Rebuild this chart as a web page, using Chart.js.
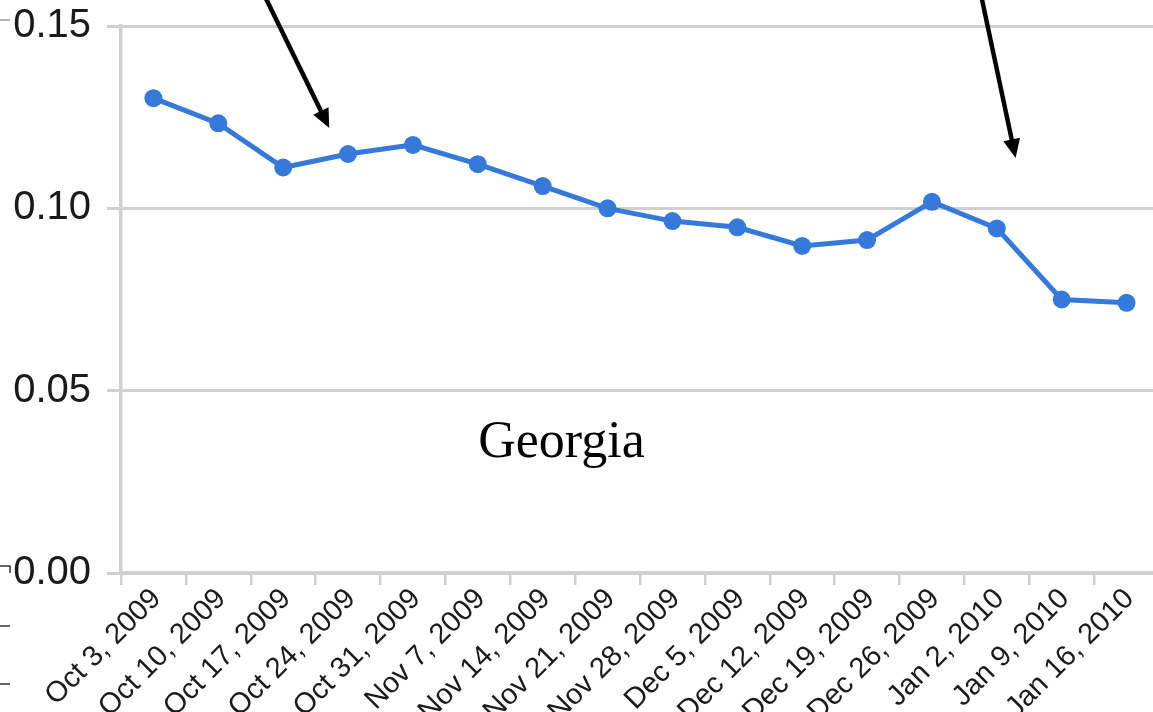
<!DOCTYPE html>
<html>
<head>
<meta charset="utf-8">
<script src="https://cdn.jsdelivr.net/npm/chart.js@4.4.1/dist/chart.umd.min.js"></script>
<style>
  html, body { margin: 0; padding: 0; width: 1153px; height: 712px; overflow: hidden; background: #ffffff; }
  #wrap { position: absolute; left: 0; top: 0; width: 1168px; height: 760px; }
  canvas { display: block; }
</style>
</head>
<body>
<div id="wrap"><canvas id="chart" width="1168" height="760"></canvas></div>
<script>
// Weekly rate, Georgia, Oct 2009 – Jan 2010
const weeks = [
  'Oct 3, 2009', 'Oct 10, 2009', 'Oct 17, 2009', 'Oct 24, 2009',
  'Oct 31, 2009', 'Nov 7, 2009', 'Nov 14, 2009', 'Nov 21, 2009',
  'Nov 28, 2009', 'Dec 5, 2009', 'Dec 12, 2009', 'Dec 19, 2009',
  'Dec 26, 2009', 'Jan 2, 2010', 'Jan 9, 2010', 'Jan 16, 2010'
];
const rates = [
  0.1302, 0.1233, 0.1112, 0.1149, 0.1174, 0.1121, 0.1061, 0.1000,
  0.0965, 0.0948, 0.0897, 0.0913, 0.1018, 0.0945, 0.0750, 0.0741
];
const yTicks = [0.00, 0.05, 0.10, 0.15];

// Panel label and the two pointer arrows, given as [week index, rate]
const panelTitle = 'Georgia';
const panelTitleAt = [6.29, 0.0318];
const arrowFrom = [[1.67, 0.1599], [12.74, 0.1599]];
const arrowTo   = [[2.71, 0.1220], [13.29, 0.1138]];

const LINE_BLUE = '#3579db';
const AXIS_GREY = '#d0d0d0';
const TEXT = '#1a1a1a';

// Layout targets on the page
const PLOT_TOP = 26;       // pixel row of the 0.15 grid line
const PLOT_HEIGHT = 547;   // 0.15 down to 0.00
const X_AXIS_BAND = 187;   // room below the plot for the tick labels

const annotations = {
  id: 'annotations',
  afterDraw(chart) {
    const { ctx, scales: { x, y } } = chart;
    ctx.save();

    // panel title
    ctx.fillStyle = '#000000';
    ctx.font = '52px "Liberation Serif", "Times New Roman", serif';
    ctx.textAlign = 'center';
    ctx.textBaseline = 'alphabetic';
    ctx.fillText(panelTitle, x.getPixelForValue(panelTitleAt[0]), y.getPixelForValue(panelTitleAt[1]));

    // pointer arrows
    ctx.strokeStyle = '#000000';
    ctx.fillStyle = '#000000';
    ctx.lineWidth = 4.5;
    ctx.lineCap = 'butt';
    arrowFrom.forEach((from, i) => {
      const to = arrowTo[i];
      const x0 = x.getPixelForValue(from[0]), y0 = y.getPixelForValue(from[1]);
      const x1 = x.getPixelForValue(to[0]), y1 = y.getPixelForValue(to[1]);
      const ang = Math.atan2(y1 - y0, x1 - x0);
      const headLen = 19, headHalf = 8.5;
      const bx = x1 - headLen * Math.cos(ang), by = y1 - headLen * Math.sin(ang);
      ctx.beginPath();
      ctx.moveTo(x0, y0);
      ctx.lineTo(bx + Math.cos(ang) * 2, by + Math.sin(ang) * 2);
      ctx.stroke();
      ctx.beginPath();
      ctx.moveTo(x1, y1);
      ctx.lineTo(bx + headHalf * Math.sin(ang), by - headHalf * Math.cos(ang));
      ctx.lineTo(bx - headHalf * Math.sin(ang), by + headHalf * Math.cos(ang));
      ctx.closePath();
      ctx.fill();
    });

    // tick stubs of the neighbouring panel along the left edge
    const top = y.getPixelForValue(0.15), zero = y.getPixelForValue(0);
    ctx.lineWidth = 1.5;
    ctx.strokeStyle = '#9a9a9a';
    ctx.beginPath();
    ctx.moveTo(0, top - 6); ctx.lineTo(10, top - 6);
    ctx.stroke();
    ctx.strokeStyle = '#333333';
    ctx.beginPath();
    ctx.moveTo(0, zero - 7); ctx.lineTo(10, zero - 7); ctx.lineTo(10, zero);
    ctx.moveTo(0, zero + 53); ctx.lineTo(10, zero + 53);
    ctx.moveTo(0, zero + 111); ctx.lineTo(10, zero + 111);
    ctx.stroke();

    ctx.restore();
  }
};

function makeConfig() {
  return {
    type: 'line',
    data: {
      labels: weeks,
      datasets: [{
        data: rates,
        borderColor: LINE_BLUE,
        backgroundColor: LINE_BLUE,
        borderWidth: 5,
        pointRadius: 9,
        pointHoverRadius: 9,
        pointBorderWidth: 0,
        pointBackgroundColor: LINE_BLUE,
        tension: 0,
        fill: false,
        clip: false
      }]
    },
    options: {
      responsive: false,
      maintainAspectRatio: false,
      animation: false,
      events: [],
      layout: { padding: { left: 0, top: 0, right: 0, bottom: 0 } },
      plugins: {
        legend: { display: false },
        tooltip: { enabled: false },
        title: { display: false }
      },
      scales: {
        x: {
          type: 'category',
          offset: true,
          grid: {
            offset: true,
            drawOnChartArea: false,
            drawTicks: true,
            tickLength: 12,
            color: AXIS_GREY,
            lineWidth: 2.5
          },
          border: { display: true, color: AXIS_GREY, width: 4 },
          ticks: {
            autoSkip: false,
            minRotation: 45,
            maxRotation: 45,
            padding: -3,
            labelOffset: 3,
            color: TEXT,
            font: { family: '"Liberation Sans", Arial, sans-serif', size: 29 }
          },
          afterFit(scale) { scale.height = X_AXIS_BAND; }
        },
        y: {
          type: 'linear',
          min: 0,
          max: 0.15,
          afterBuildTicks(scale) { scale.ticks = yTicks.map(v => ({ value: v })); },
          grid: {
            drawTicks: true,
            tickLength: 14,
            color: AXIS_GREY,
            lineWidth: 3
          },
          border: { display: true, color: AXIS_GREY, width: 3.5 },
          ticks: {
            padding: 16,
            color: TEXT,
            font: { family: '"Liberation Sans", Arial, sans-serif', size: 40 },
            callback: v => Number(v).toFixed(2)
          },
          afterFit(scale) { scale.width = 121; }
        }
      }
    },
    plugins: [annotations]
  };
}

const wrap = document.getElementById('wrap');
const canvas = document.getElementById('chart');

function build(height) {
  canvas.width = 1168;
  canvas.height = height;
  canvas.style.width = '1168px';
  canvas.style.height = height + 'px';
  wrap.style.height = height + 'px';
  return new Chart(canvas, makeConfig());
}

// First pass finds where the library puts the plot top; the canvas is then
// sized and shifted so the plot spans exactly PLOT_TOP .. PLOT_TOP + PLOT_HEIGHT.
let chart = build(760);
const plotTop = chart.chartArea.top;
chart.destroy();
const height = Math.round(plotTop + PLOT_HEIGHT + X_AXIS_BAND);
wrap.style.top = Math.round(PLOT_TOP - plotTop) + 'px';
chart = build(height);
</script>
</body>
</html>
